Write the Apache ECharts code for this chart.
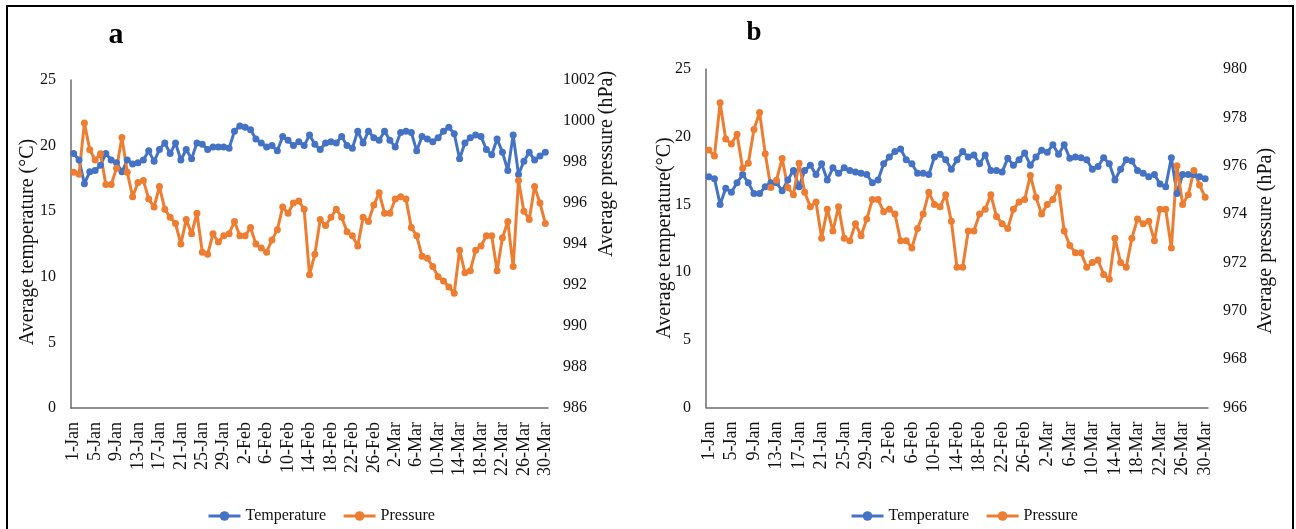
<!DOCTYPE html>
<html>
<head>
<meta charset="utf-8">
<script src="https://cdn.jsdelivr.net/npm/echarts@6/dist/echarts.min.js"></script>
<style>
  html, body { margin: 0; padding: 0; background: #fff; }
  #chart { width: 1296px; height: 529px; }
</style>
</head>
<body>
<div id="chart"></div>
<script>
// Calendar days shown on both x axes (1 Jan - 30 Mar)
const monthSpans = [['Jan', 31], ['Feb', 28], ['Mar', 30]];
const days = [];
monthSpans.forEach(([m, n]) => { for (let d = 1; d <= n; d++) days.push(d + '-' + m); });

// Station a: daily mean temperature (°C) and pressure (hPa)
const tempA = [
  19.4, 18.9, 17.1, 18.0, 18.1, 18.5, 19.4, 18.9, 18.7, 18.0,
  18.9, 18.6, 18.7, 18.9, 19.6, 18.8, 19.7, 20.2, 19.4, 20.2,
  18.9, 19.7, 19.0, 20.2, 20.1, 19.7, 19.9, 19.9, 19.9, 19.8,
  21.1, 21.5, 21.4, 21.2, 20.5, 20.2, 19.9, 20.0, 19.6, 20.7,
  20.4, 20.0, 20.3, 20.0, 20.8, 20.1, 19.7, 20.2, 20.3, 20.2,
  20.7, 20.0, 19.8, 21.1, 20.2, 21.1, 20.6, 20.4, 21.1, 20.4,
  19.9, 21.0, 21.1, 21.0, 19.6, 20.7, 20.5, 20.3, 20.6, 21.1,
  21.4, 20.9, 19.0, 20.2, 20.6, 20.8, 20.7, 19.7, 19.3, 20.5,
  19.5, 18.1, 20.8, 17.8, 18.8, 19.5, 18.9, 19.2, 19.5
];
const presA = [
  997.5, 997.4, 999.9, 998.6, 998.1, 998.4, 996.9, 996.9, 997.7, 999.2,
  997.5, 996.3, 997.0, 997.1, 996.2, 995.8, 996.8, 995.7, 995.3, 995.0,
  994.0, 995.2, 994.5, 995.5, 993.6, 993.5, 994.5, 994.1, 994.4, 994.5,
  995.1, 994.4, 994.4, 994.8, 994.0, 993.8, 993.6, 994.2, 994.7, 995.8,
  995.5, 996.0, 996.1, 995.7, 992.5, 993.5, 995.2, 994.9, 995.3, 995.7,
  995.3, 994.6, 994.4, 993.9, 995.3, 995.1, 995.9, 996.5, 995.5, 995.5,
  996.2, 996.3, 996.2, 994.8, 994.4, 993.4, 993.3, 992.9, 992.4, 992.2,
  991.9, 991.6, 993.7, 992.6, 992.7, 993.7, 993.9, 994.4, 994.4, 992.7,
  994.3, 995.1, 992.9, 997.1, 995.6, 995.2, 996.8, 996.0, 995.0
];

// Station b: daily mean temperature (°C) and pressure (hPa)
const tempB = [
  17.05, 16.9, 15.0, 16.2, 15.9, 16.6, 17.2, 16.6, 15.8, 15.8,
  16.3, 16.6, 16.6, 16.0, 16.8, 17.5, 16.3, 17.5, 17.9, 17.2,
  18.0, 16.8, 17.7, 17.3, 17.7, 17.5, 17.4, 17.3, 17.2, 16.6,
  16.8, 18.0, 18.5, 18.9, 19.1, 18.3, 18.0, 17.3, 17.3, 17.2,
  18.5, 18.7, 18.3, 17.6, 18.3, 18.9, 18.5, 18.65, 18.0, 18.65,
  17.5, 17.5, 17.4, 18.4, 17.9, 18.3, 18.8, 17.9, 18.5, 19.0,
  18.85, 19.4, 18.7, 19.4, 18.4, 18.5, 18.45, 18.3, 17.6, 17.8,
  18.45, 18.0, 16.8, 17.6, 18.3, 18.2, 17.5, 17.3, 17.05, 17.2,
  16.5, 16.3, 18.45, 15.8, 17.2, 17.2, 17.2, 17.05, 16.9
];
const presB = [
  976.65, 976.4, 978.6, 977.1, 976.9, 977.3, 975.9, 976.1, 977.5, 978.2,
  976.5, 975.1, 975.4, 976.3, 975.1, 974.8, 976.1, 974.9, 974.3, 974.5,
  973.0, 974.2, 973.3, 974.3, 973.0, 972.9, 973.6, 973.1, 973.8, 974.6,
  974.6, 974.1, 974.2, 974.0, 972.9, 972.9, 972.6, 973.4, 974.0, 974.9,
  974.4, 974.3, 974.8, 973.7, 971.8, 971.8, 973.3, 973.3, 974.0, 974.2,
  974.8, 973.9, 973.6, 973.4, 974.2, 974.5, 974.6, 975.6, 974.7, 974.0,
  974.4, 974.6, 975.1, 973.3, 972.7, 972.4, 972.4, 971.8, 972.0, 972.1,
  971.5, 971.3, 973.0, 972.0, 971.8, 973.0, 973.8, 973.6, 973.7, 972.9,
  974.2, 974.2, 972.6, 976.0, 974.4, 974.8, 975.8, 975.2, 974.7
];

const FONT = '"Liberation Serif", "Times New Roman", serif';
const BLUE = '#4472C4';
const ORANGE = '#ED7D31';
const AXIS_GREY = '#6b6b6b';
const INK = '#111';

function categoryAxis(gridIndex) {
  return {
    type: 'category', gridIndex, data: days, boundaryGap: true,
    axisLine: { lineStyle: { color: AXIS_GREY, width: 1.5 } },
    axisTick: { show: false },
    axisLabel: { interval: 3, rotate: 90, fontFamily: FONT, fontSize: 18, color: INK, margin: 14 },
    splitLine: { show: false }
  };
}
function valueAxis(gridIndex, position, min, max, interval, showLine) {
  return {
    type: 'value', gridIndex, position, min, max, interval,
    axisLine: { show: showLine, lineStyle: { color: AXIS_GREY, width: 1.5 } },
    axisTick: { show: false },
    splitLine: { show: false },
    axisLabel: { fontFamily: FONT, fontSize: 16, color: INK, margin: 15, formatter: v => String(v) }
  };
}
function lineSeries(name, data, color, axisIdx, yIdx) {
  return {
    name, type: 'line', data, xAxisIndex: axisIdx, yAxisIndex: yIdx,
    symbol: 'circle', symbolSize: 7, showAllSymbol: true,
    lineStyle: { color, width: 3 }, itemStyle: { color },
    animation: false
  };
}
function rotatedTitle(text, x, y) {
  return {
    type: 'text', x, y, rotation: Math.PI / 2,
    style: { text, fontFamily: FONT, fontSize: 20, fill: INK, align: 'center', verticalAlign: 'middle' }
  };
}
function legendAt(left) {
  return {
    data: ['Temperature', 'Pressure'], left, top: 503,
    itemWidth: 32, itemHeight: 12, itemGap: 16,
    lineStyle: { width: 3 },
    textStyle: { fontFamily: FONT, fontSize: 16, color: INK }
  };
}

const chart = echarts.init(document.getElementById('chart'), null, { renderer: 'canvas' });
chart.setOption({
  backgroundColor: '#fff',
  animation: false,
  grid: [
    { left: 71, right: 748, top: 80, bottom: 121 },
    { left: 706, right: 88, top: 69, bottom: 121.5 }
  ],
  xAxis: [categoryAxis(0), categoryAxis(1)],
  yAxis: [
    valueAxis(0, 'left', 0, 25, 5, true),
    valueAxis(0, 'right', 986, 1002, 2, false),
    valueAxis(1, 'left', 0, 25, 5, true),
    valueAxis(1, 'right', 966, 980, 2, false)
  ],
  legend: [legendAt(202), legendAt(845)],
  series: [
    lineSeries('Temperature', tempA, BLUE, 0, 0),
    lineSeries('Pressure', presA, ORANGE, 0, 1),
    lineSeries('Temperature', tempB, BLUE, 1, 2),
    lineSeries('Pressure', presB, ORANGE, 1, 3)
  ],
  graphic: [
    { type: 'rect', shape: { x: 7, y: 6, width: 1286, height: 540 },
      style: { fill: 'none', stroke: '#000', lineWidth: 2 }, silent: true },
    { type: 'text', x: 116, y: 35,
      style: { text: 'a', fontFamily: FONT, fontWeight: 'bold', fontSize: 30, fill: '#000', align: 'center', verticalAlign: 'middle' } },
    { type: 'text', x: 754, y: 33,
      style: { text: 'b', fontFamily: FONT, fontWeight: 'bold', fontSize: 27, fill: '#000', align: 'center', verticalAlign: 'middle' } },
    rotatedTitle('Average temperature (°C)', 28, 242),
    rotatedTitle('Average pressure (hPa)', 607, 164),
    rotatedTitle('Average temperature(°C)', 665, 238),
    rotatedTitle('Average pressure (hPa)', 1266, 241)
  ]
});
</script>
</body>
</html>
